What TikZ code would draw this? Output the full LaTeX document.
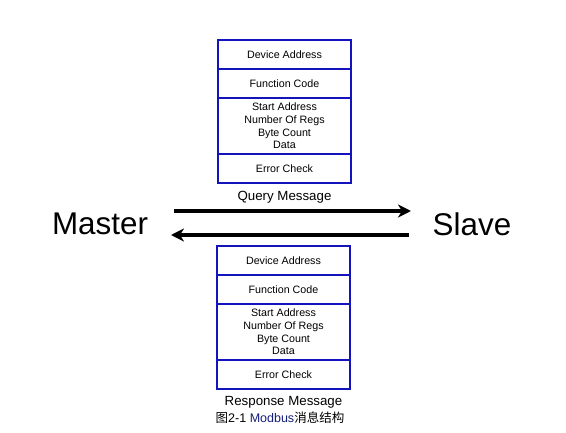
\documentclass[tikz,border=0pt]{standalone}
\usepackage{fontspec}
\setmainfont{Liberation Sans}
\newfontfamily\cjk{Noto Sans CJK SC}
\usetikzlibrary{arrows.meta}
\definecolor{boxblue}{RGB}{20,20,190}
\definecolor{capblue}{RGB}{20,30,120}
\begin{document}
\begin{tikzpicture}[x=1pt,y=-1pt,
  field/.style={draw=boxblue,line width=1.8pt,minimum width=133pt,inner sep=0pt,align=center,font=\fontsize{10.7}{12.6}\selectfont},
  label/.style={font=\fontsize{13.3}{15}\selectfont,inner sep=0pt},
  big/.style={font=\fontsize{31.4}{34}\selectfont,inner sep=0pt},
  flow/.style={line width=3.6pt,-{Stealth[length=13pt,width=13pt,inset=4pt]}}]
\useasboundingbox (0,0) rectangle (566,433);
% query message
\node[field,minimum height=29pt] (q1) at (284.5,54.5) {Device Address};
\node[field,minimum height=29pt] (q2) at (284.5,83.5) {Function Code};
\node[field,minimum height=56pt] (q3) at (284.5,126) {Start Address\\Number Of Regs\\Byte Count\\Data};
\node[field,minimum height=29pt] (q4) at (284.5,168.5) {Error Check};
\node[label] (ql) at (284.5,197) {Query Message};
% response message
\node[field,minimum height=29pt] (r1) at (283.5,260.5) {Device Address};
\node[field,minimum height=29pt] (r2) at (283.5,289.5) {Function Code};
\node[field,minimum height=56pt] (r3) at (283.5,332) {Start Address\\Number Of Regs\\Byte Count\\Data};
\node[field,minimum height=29pt] (r4) at (283.5,374.5) {Error Check};
\node[label] (rl) at (283.5,402) {Response Message};
\node[inner sep=0pt,font=\fontsize{12.5}{14}\selectfont] (cap) at (280,418) {{\cjk 图}2-1 \textcolor{capblue}{Modbus}{\cjk 消息结构}};
% master / slave
\node[big] (m) at (100,224) {Master};
\node[big] (s) at (472,224) {Slave};
\coordinate (a1) at (174,211);
\coordinate (a2) at (411,211);
\coordinate (b1) at (409,235);
\coordinate (b2) at (171,235);
\draw[flow] (a1) -- (a2);
\draw[flow] (b1) -- (b2);
\end{tikzpicture}
\end{document}
